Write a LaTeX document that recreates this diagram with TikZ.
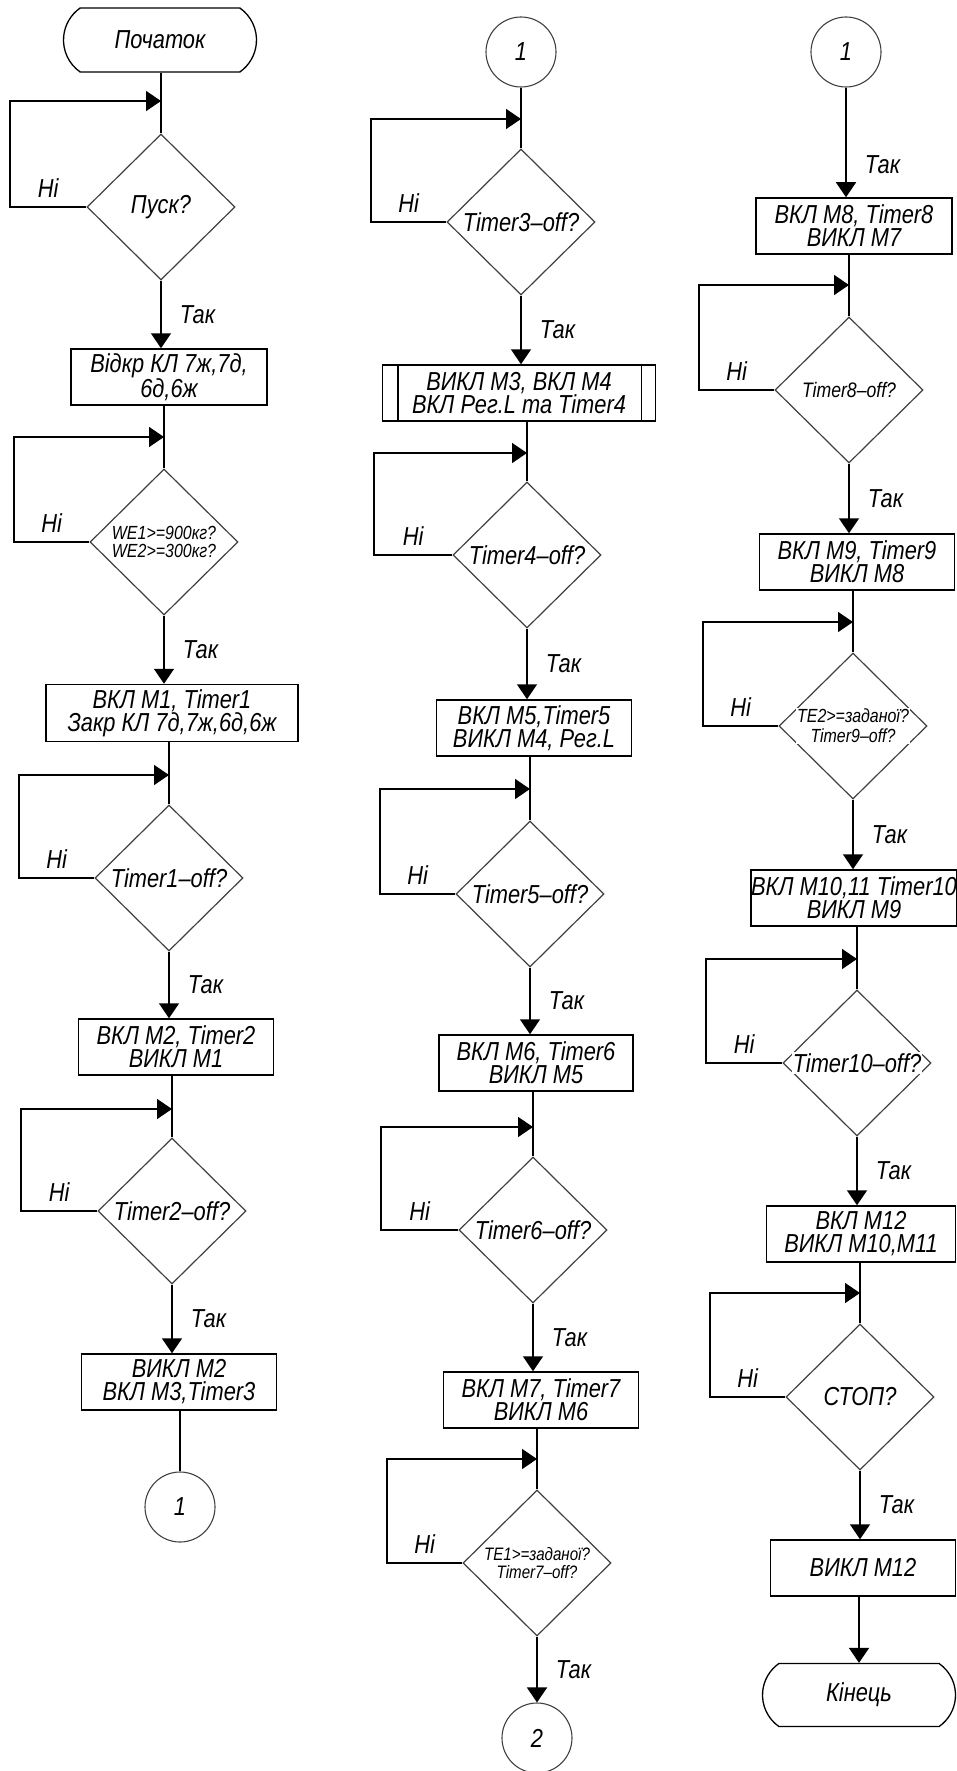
\documentclass[tikz,border=0pt]{standalone}
\usepackage{fontspec}
\setmainfont{Liberation Sans}[FakeStretch=0.84]
\usetikzlibrary{shapes.geometric,shapes.misc,arrows.meta}

\tikzset{
  base/.style={font=\fontsize{26}{23}\selectfont\itshape, inner sep=0pt, align=center},
  term/.style={base, rounded rectangle, rounded rectangle arc length=110, draw, line width=1.3pt,
    minimum width=193pt, minimum height=64pt},
  proc/.style={base, rectangle, draw, line width=1.5pt, minimum height=56pt},
  decision/.style={diamond, draw=black!75, line width=1.2pt, minimum width=148pt,
    minimum height=146pt, inner sep=0pt},
  qtext/.style={base, fill=white, inner sep=1pt},
  qsmall/.style={font=\fontsize{19}{18}\selectfont\itshape},
  conn/.style={base, circle, draw=black!75, line width=1.1pt, minimum size=70pt},
  wire/.style={line width=1.6pt},
  arr/.style={wire, -{Triangle[width=20pt,length=15pt]}},
  yeslbl/.style={base, midway, anchor=west, xshift=18pt},
  nolbl/.style={base, midway, anchor=south, yshift=9pt},
}

\begin{document}
\begin{tikzpicture}[x=1pt,y=-1pt]
  \useasboundingbox (0,0) rectangle (957,1771);

  % first column
  \node[term] (start) at (160,40) {Початок};
  \coordinate (m1) at (161,101);
  \node[decision, label={[qtext]center:Пуск?}] (d1) at (161,207) {};
  \node[proc, minimum width=196pt] (b1) at (169,377) {Відкр КЛ 7ж,7д,\\6д,6ж};
  \coordinate (m2) at (164,437);
  \node[decision, label={[qtext,qsmall]center:{WE1>=900кг?\\WE2>=300кг?}}] (d2) at (164,542) {};
  \node[proc, minimum width=252pt, minimum height=57pt] (b2) at (172,713) {ВКЛ М1, Timer1\\Закр КЛ 7д,7ж,6д,6ж};
  \coordinate (m3) at (169,775);
  \node[decision, label={[qtext]center:Timer1--off?}] (d3) at (169,878) {};
  \node[proc, minimum width=195pt] (b3) at (176,1047) {ВКЛ М2, Timer2\\ВИКЛ М1};
  \coordinate (m4) at (172,1109);
  \node[decision, label={[qtext]center:Timer2--off?}] (d4) at (172,1211) {};
  \node[proc, minimum width=195pt] (b4) at (179,1382) {ВИКЛ М2\\ВКЛ М3,Timer3};
  \node[conn] (c1) at (180,1507) {1};

  % second column
  \node[conn] (c2) at (521,52) {1};
  \coordinate (m5) at (521,119);
  \node[decision, label={[qtext]center:Timer3--off?}] (d5) at (521,222) {};
  \node[proc, minimum width=273pt] (b5) at (519,393) {ВИКЛ М3, ВКЛ М4\\ВКЛ Рег.L та Timer4};
  \draw[line width=1.5pt] ([xshift=16pt]b5.north west) -- ([xshift=16pt]b5.south west)
    ([xshift=-15pt]b5.north east) -- ([xshift=-15pt]b5.south east);
  \coordinate (m6) at (527,453);
  \node[decision, label={[qtext]center:Timer4--off?}] (d6) at (527,555) {};
  \node[proc, minimum width=195pt] (b6) at (534,728) {ВКЛ М5,Timer5\\ВИКЛ М4, Рег.L};
  \coordinate (m7) at (530,789);
  \node[decision, label={[qtext]center:Timer5--off?}] (d7) at (530,894) {};
  \node[proc, minimum width=194pt] (b7) at (536,1063) {ВКЛ М6, Timer6\\ВИКЛ М5};
  \coordinate (m8) at (533,1127);
  \node[decision, label={[qtext]center:Timer6--off?}] (d8) at (533,1230) {};
  \node[proc, minimum width=195pt] (b8) at (541,1400) {ВКЛ М7, Timer7\\ВИКЛ М6};
  \coordinate (m9) at (537,1459);
  \node[decision, label={[qtext,font=\fontsize{18}{18}\selectfont\itshape]center:{TE1>=заданої?\\Timer7--off?}}] (d9) at (537,1563) {};
  \node[conn] (c3) at (537,1738) {2};

  % third column
  \node[conn] (c4) at (846,52) {1};
  \node[proc, minimum width=196pt] (b9) at (854,226) {ВКЛ М8, Timer8\\ВИКЛ М7};
  \coordinate (m10) at (849,285);
  \node[decision, label={[qtext,font=\fontsize{21}{21}\selectfont\itshape]center:Timer8--off?}] (d10) at (849,390) {};
  \node[proc, minimum width=195pt] (b10) at (857,562) {ВКЛ М9, Timer9\\ВИКЛ М8};
  \coordinate (m11) at (853,622);
  \node[decision, label={[qtext,font=\fontsize{19}{20}\selectfont\itshape]center:{TE2>=заданої?\\Timer9--off?}}] (d11) at (853,726) {};
  \node[proc, minimum width=205pt] (b11) at (854,898) {ВКЛ М10,11 Timer10\\ВИКЛ М9};
  \coordinate (m12) at (857,959);
  \node[decision, label={[qtext]center:Timer10--off?}] (d12) at (857,1063) {};
  \node[proc, minimum width=189pt] (b12) at (861,1234) {ВКЛ М12\\ВИКЛ М10,М11};
  \coordinate (m13) at (860,1293);
  \node[decision, label={[qtext]center:СТОП?}] (d13) at (860,1397) {};
  \node[proc, minimum width=185pt] (b13) at (863,1568) {ВИКЛ М12};
  \node[term, minimum height=63pt] (stop) at (859,1695) {Кінець};

  % straight lines
  \foreach \a/\m/\b in {start/m1/d1, b1/m2/d2, b2/m3/d3, b3/m4/d4, c2/m5/d5, b5/m6/d6,
      b6/m7/d7, b7/m8/d8, b8/m9/d9, b9/m10/d10, b10/m11/d11, b11/m12/d12, b12/m13/d13}
    \draw[wire] (\a.south -| \m) -- (\b.north);
  \draw[wire] (b4.south -| c1) -- (c1.north);

  % yes branches
  \foreach \a/\b in {d1/b1, d2/b2, d3/b3, d4/b4, d5/b5, d6/b6, d7/b7, d8/b8, d9/c3,
      d10/b10, d11/b11, d12/b12, d13/b13}
    \draw[arr] (\a.south) -- node[yeslbl] {Так} (\a.south |- \b.north);
  \draw[arr] (c4.south) -- node[yeslbl, pos=0.7] {Так} (c4.south |- b9.north);
  \draw[arr] (b13.south -| stop) -- (stop.north);

  % no loops
  \foreach \q/\m/\xl in {d1/m1/10, d2/m2/14, d3/m3/19, d4/m4/21, d5/m5/371, d6/m6/374,
      d7/m7/380, d8/m8/381, d9/m9/387, d10/m10/699, d11/m11/703, d12/m12/706, d13/m13/710}
    \draw[arr] (\q.west) -- node[nolbl] {Ні} (\xl,0 |- \q.west) |- (\m);
\end{tikzpicture}
\end{document}
